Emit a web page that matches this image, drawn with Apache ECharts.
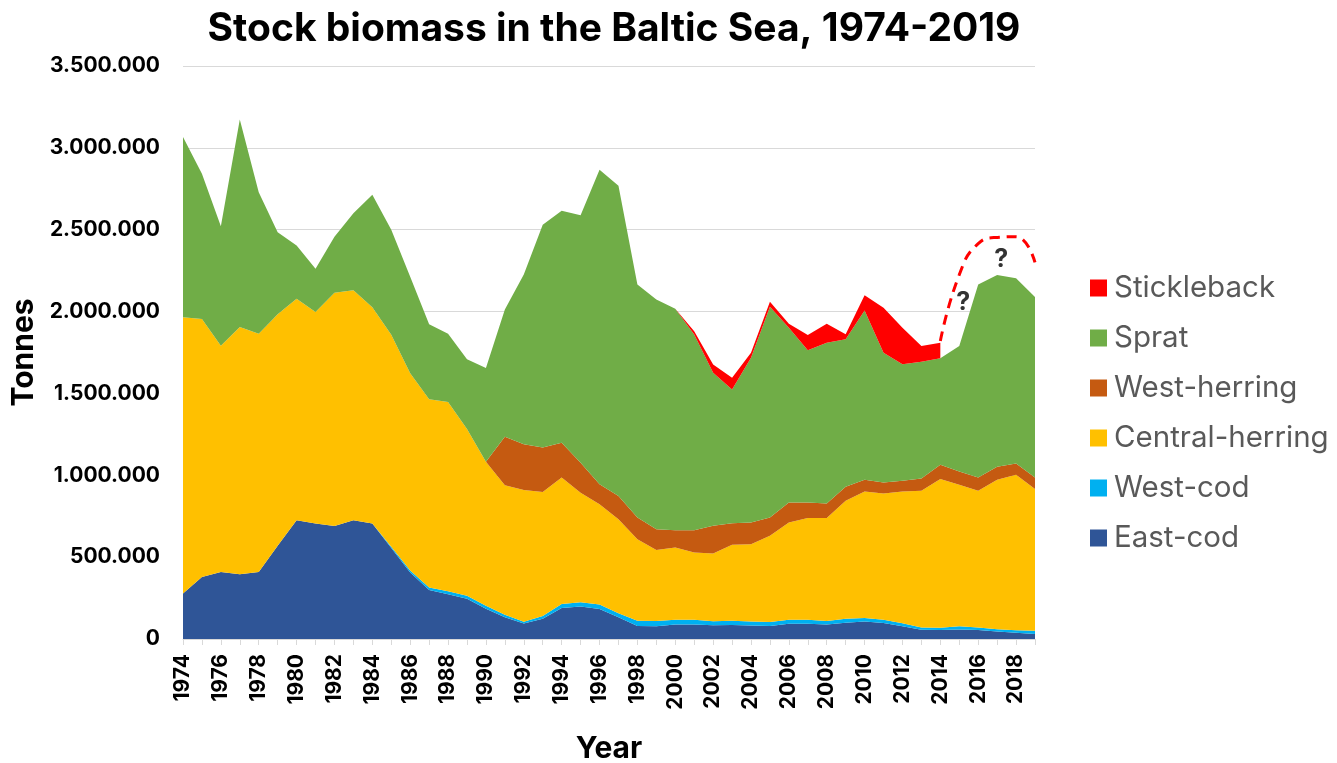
<!DOCTYPE html>
<html>
<head>
<meta charset="utf-8">
<script src="https://cdn.jsdelivr.net/npm/echarts@6/dist/echarts.min.js"></script>
<style>html,body{margin:0;padding:0;background:#fff;}#c{width:1337px;height:763px;}</style>
</head>
<body>
<div id="c"></div>
<script>
const years = [];
for (let y = 1974; y <= 2019; y++) years.push(String(y));

// values in thousands of tonnes (1974..2019)
const eastCod = [278,378,410,395,410,570,726,705,690,726,705,556,406,299,274,246,185,133,95,123,190,198,184,133,80,78,88,88,84,85,82,80,93,93,88,99,107,98,78,57,55,58,55,46,38,30];
const westCod = [0,0,0,0,0,0,0,0,0,0,0,8,12,15,18,18,18,15,10,17,24,26,26,24,32,32,30,29,25,26,25,24,24,24,22,24,22,20,18,13,14,20,16,14,16,20];
const centralHerring = [1688,1577,1381,1511,1455,1413,1353,1293,1425,1404,1321,1295,1206,1150,1155,1018,880,791,805,758,772,670,613,575,498,433,441,411,413,464,472,526,595,622,629,722,772,771,805,836,908,864,835,913,949,866];
const westHerring = [0,0,0,0,0,0,0,0,0,0,0,0,0,0,0,0,0,297,279,271,213,183,122,142,132,128,106,137,169,132,132,112,122,95,89,85,72,67,66,75,87,81,81,79,69,71];
const sprat = [1100,887,730,1267,864,502,325,263,342,470,688,641,588,459,418,427,572,776,1037,1362,1417,1511,1921,1894,1423,1402,1352,1195,935,817,1007,1288,1067,929,982,901,1034,793,711,713,651,767,1179,1171,1131,1102];
const stickleback = [null,null,null,null,null,null,null,null,null,null,null,null,null,null,null,null,null,null,null,null,null,null,null,null,null,null,0,20,51,72,30,30,25,94,116,30,92,274,223,96,95,null,null,null,null,null];
// hand-drawn dashed guess (total, thousands) 2014..2019
const guessYears = ['2014','2015','2016','2017','2018','2019'];
const guessTotal = [1820,2225,2415,2453,2457,2300];
// question marks: [year, value in thousands]
const questionMarks = [['2015',2055],['2017',2317]];

const yTicks = [0,500000,1000000,1500000,2000000,2500000,3000000,3500000];

const k = v => v == null ? null : v * 1000;
const colors = {
  'East-cod':'#2F5597','West-cod':'#00B0F0','Central-herring':'#FFC000',
  'West-herring':'#C55A11','Sprat':'#70AD47','Stickleback':'#FF0000'
};
const seriesDefs = [
  ['East-cod', eastCod],['West-cod', westCod],['Central-herring', centralHerring],
  ['West-herring', westHerring],['Sprat', sprat],['Stickleback', stickleback]
];
const FF = 'Inter, "Liberation Sans", Arial, sans-serif';

const series = seriesDefs.map(([name, arr]) => ({
  name, type:'line', stack:'total', data: arr.map(k),
  symbol:'none', showSymbol:false, lineStyle:{width:0},
  areaStyle:{color:colors[name], opacity:1}, itemStyle:{color:colors[name]},
  emphasis:{disabled:true}, z:2
}));
const guessData = years.map(y => { const i = guessYears.indexOf(y); return i >= 0 ? guessTotal[i]*1000 : null; });
series.push({
  name:'guess', type:'line', data: guessData, smooth:0.5, symbol:'none',
  lineStyle:{color:'#FF0000', width:3, type:[10,7]}, z:5, silent:true
});
series.push({
  name:'q', type:'scatter', symbolSize:1, itemStyle:{color:'rgba(0,0,0,0)'},
  data: questionMarks.map(([y,v]) => [y, v*1000]),
  label:{show:true, formatter:'?', position:'inside', offset:[4,0], fontSize:25, fontWeight:'bold', color:'#000', fontFamily:FF},
  z:6, silent:true
});

const chart = echarts.init(document.getElementById('c'));
chart.setOption({
  animation:false,
  backgroundColor:'#fff',
  title:{text:'Stock biomass in the Baltic Sea, 1974-2019', left:609, top:5, textAlign:'center',
    textStyle:{fontFamily:FF, fontSize:39, fontWeight:'bold', color:'#000'}},
  legend:{orient:'vertical', left:1085, top:268, itemWidth:17, itemHeight:17, itemGap:20,
    icon:'rect', data:['Stickleback','Sprat','West-herring','Central-herring','West-cod','East-cod'],
    textStyle:{fontFamily:FF, fontSize:29.5, color:'#595959', padding:[0,0,0,2]}},
  grid:{left:183, right:302, top:66, bottom:124, containLabel:false, outerBoundsMode:'none'},
  xAxis:{type:'category', data:years, boundaryGap:false,
    name:'Year', nameLocation:'middle', nameGap:95,
    nameTextStyle:{fontFamily:FF, fontSize:30, fontWeight:'bold', color:'#000'},
    axisLine:{lineStyle:{color:'#d9d9d9', width:1}},
    axisTick:{show:true, interval:0, length:6, lineStyle:{color:'#d9d9d9'}},
    axisLabel:{interval:1, rotate:90, fontFamily:FF, fontSize:21, fontWeight:'bold', color:'#000', margin:15},
    splitLine:{show:false}},
  yAxis:{type:'value', min:0, max:3500000, interval:500000,
    name:'Tonnes', nameLocation:'middle', nameGap:142, nameRotate:90,
    nameTextStyle:{fontFamily:FF, fontSize:30, fontWeight:'bold', color:'#000'},
    axisLine:{show:false}, axisTick:{show:false},
    axisLabel:{fontFamily:FF, fontSize:21, fontWeight:'bold', color:'#000', margin:23,
      customValues: yTicks,
      formatter: v => String(Math.round(v)).replace(/\B(?=(\d{3})+(?!\d))/g, '.')},
    splitLine:{lineStyle:{color:'#d9d9d9', width:1}}},
  series
});
</script>
</body>
</html>
